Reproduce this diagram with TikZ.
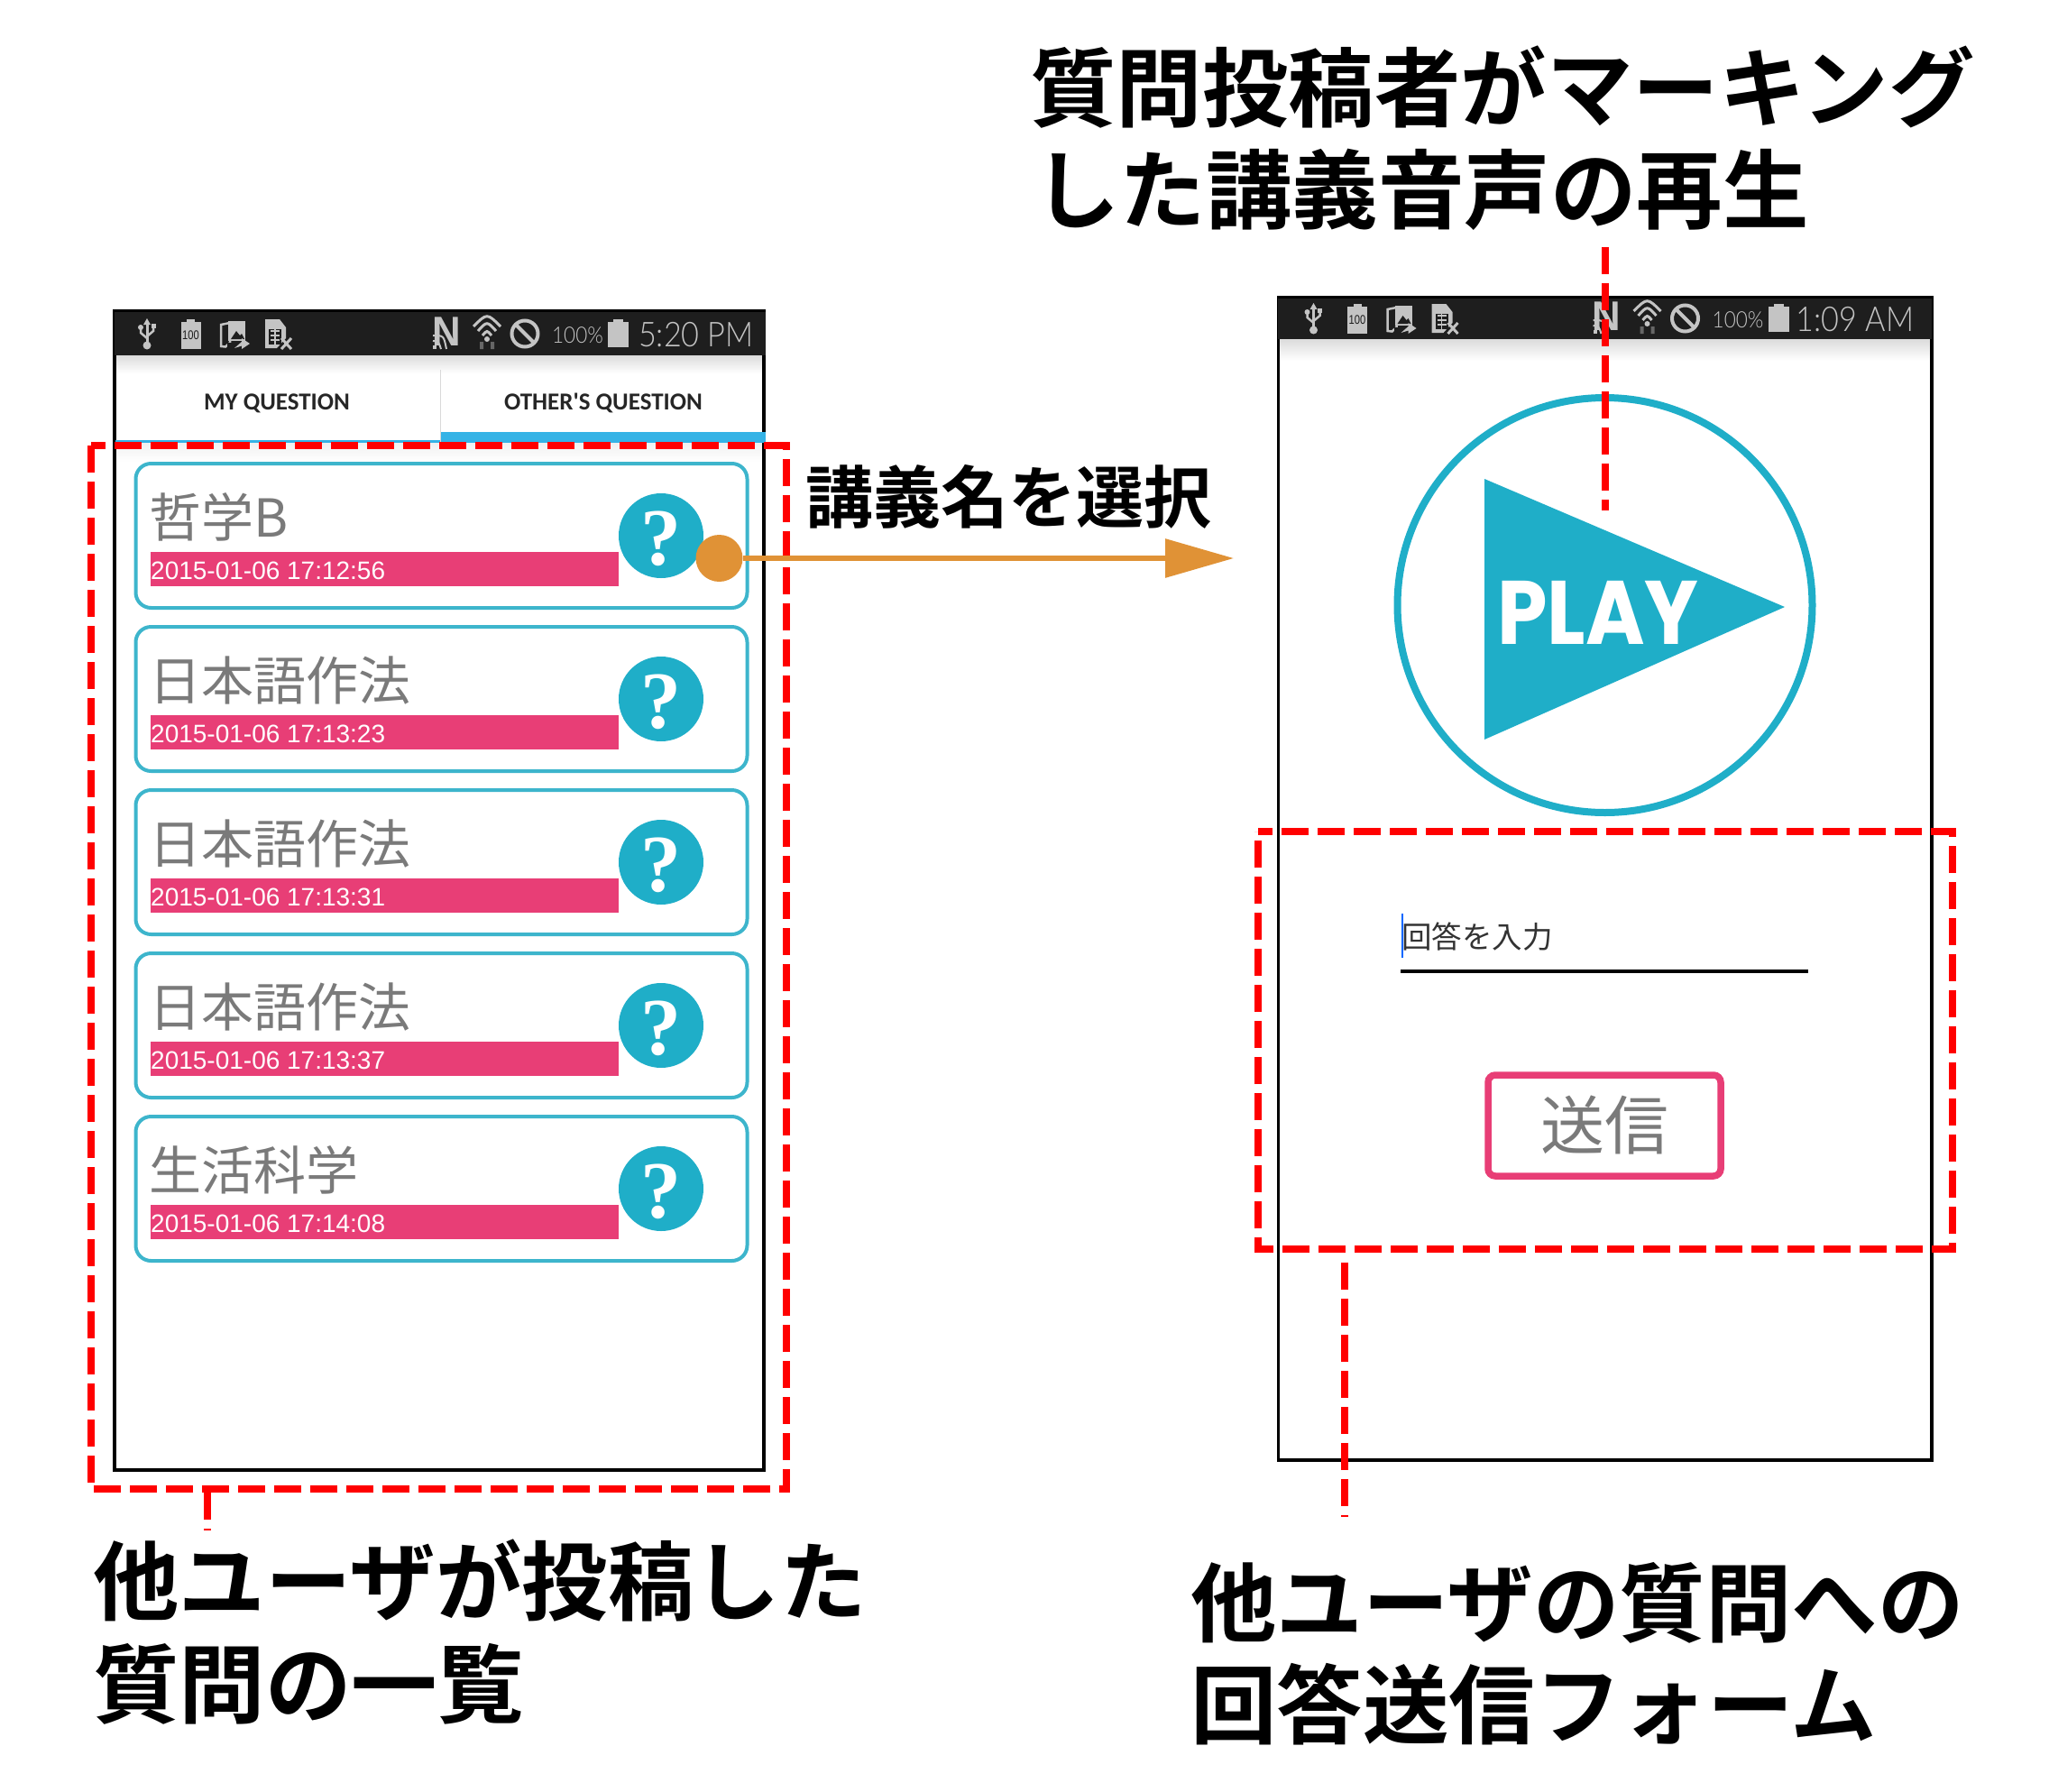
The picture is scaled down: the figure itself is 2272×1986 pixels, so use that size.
\documentclass[tikz,border=0pt]{standalone}
\usepackage{fontspec}
\usetikzlibrary{arrows.meta}
\setmainfont{Liberation Sans}
\newfontfamily\cjk{Noto Sans CJK JP}
\newfontfamily\cjkb{Noto Sans CJK JP Bold}
\newfontfamily\serq{Liberation Serif}
\newfontfamily\popf{Poppins}
\newfontfamily\tabf{Carlito}
\newfontfamily\thinf{Lato Light}
\definecolor{teal1}{HTML}{1FAEC8}
\definecolor{cardc}{HTML}{3DB5CC}
\definecolor{pink1}{HTML}{E83E76}
\definecolor{orange1}{HTML}{E09236}
\definecolor{tabblue}{HTML}{35B3E6}
\definecolor{icon}{HTML}{C4C4C4}
\definecolor{barc}{HTML}{1E1E1E}
\definecolor{graytxt}{HTML}{7A7A7A}
\definecolor{red1}{HTML}{FF0000}
\tikzset{
  lab/.style={anchor=base west,inner sep=0pt,font=\cjkb\fontsize{95.5}{95.5}\selectfont,text=black},
  redbox/.style={draw=red1,line width=7.5pt,dash pattern=on 30pt off 10pt,dash phase=14pt},
  redline/.style={draw=red1,line width=7.5pt,dash pattern=on 30pt off 10pt},
  phone/.style={draw=black,line width=3.5pt},
  card/.style={draw=cardc,line width=4pt,rounded corners=17pt,fill=white},
  iconline/.style={draw=icon,line width=3pt},
  iconfill/.style={fill=icon,draw=none},
  qmark/.style={anchor=base,inner sep=0pt,text=white,font=\serq\bfseries\fontsize{90}{90}\selectfont},
  cardtitle/.style={anchor=base west,inner sep=0pt,text=graytxt,font=\cjk\fontsize{58}{58}\selectfont},
  carddate/.style={anchor=base west,inner sep=0pt,text=white,font=\fontsize{28}{28}\selectfont},
  bartext/.style={anchor=base east,inner sep=0pt,text=icon,xscale=0.9,font=\thinf\fontsize{38}{38}\selectfont},
  tablab/.style={anchor=base,inner sep=0pt,text=black!85,font=\tabf\bfseries\fontsize{27}{27}\selectfont},
}
\newcommand{\lefticons}{%
  % usb
  \draw[iconline] (163,358) -- (163,382);
  \fill[icon] (163,353) -- (167,360) -- (159,360) -- cycle;
  \fill[icon] (163,383) circle[radius=4.5];
  \draw[iconline,line width=2.5pt] (156,364) -- (156,369) -- (163,375);
  \draw[iconline,line width=2.5pt] (170,362) -- (170,367) -- (163,373);
  \fill[icon] (156,363) circle[radius=3];
  \fill[icon] (167.5,359) rectangle (172.5,364);
  % battery 100
  \fill[icon] (200.5,357) rectangle (222.5,387);
  \fill[icon] (207,354) rectangle (216,358);
  \node[inner sep=0pt,text=barc,xscale=0.8,font=\fontsize{14}{14}\selectfont] at (211.5,372) {100};
  % photo share
  \draw[iconline,line width=2.5pt] (245,360) -- (255,358) -- (255,380) -- (250,384.5) -- (245,384) -- cycle;
  \fill[icon] (253,356) rectangle (272,378);
  \fill[barc] (256,376) -- (262,367) -- (266,372) -- (268,370) -- (271,376) -- cycle;
  \fill[barc] (252,380) rectangle (262,388);
  \fill[icon] (260,386) -- (268,379) -- (268,375) -- (277,381) -- (268,387) -- (268,383.5) -- cycle;
  % sim x
  \fill[icon] (294,354) -- (310,354) -- (317,363) -- (317,375) -- (307,386) -- (294,386) -- cycle;
  \fill[barc] (298,365) rectangle (312,382);
  \draw[icon,line width=1.5pt] (300,367) -- (310,367) (300,372) -- (310,372) (300,377) -- (310,377) (305,365) -- (305,382);
  \draw[iconline] (312,375) -- (323,387) (323,375) -- (312,387);
}
\newcommand{\righticons}[1]{%
  % N with cast arcs
  \node[anchor=base,inner sep=0pt,text=icon,xscale=0.95,font=\bfseries\fontsize{46}{46}\selectfont] at (495,383) {N};
  \fill[icon] (480,387) rectangle (484,383);
  \draw[icon,line width=2pt] (480,378) .. controls (486,378) .. (489,387) (480,372) .. controls (492,372) .. (495,387);
  % wifi
  \draw[iconline] (525,362) .. controls (540,347) .. (555,362);
  \draw[iconline] (530,367) .. controls (540,356) .. (550,367);
  \draw[iconline] (535,372) .. controls (540,366) .. (545,372);
  \fill[icon] (540,376) circle[radius=3];
  \fill[gray!80!black] (532,379) rectangle (536,387) (544,379) rectangle (548,387);
  % no sign
  \draw[icon,line width=4pt] (582,370) circle[radius=14.5];
  \draw[icon,line width=4pt] (572,360) -- (592,380);
  % percent
  \node[anchor=base west,inner sep=0pt,text=icon,xscale=0.9,font=\thinf\fontsize{25}{25}\selectfont] at (612,380) {100\%};
  % battery
  \fill[icon] (674,357) rectangle (697,385);
  \fill[icon] (680,354) rectangle (691,358);
  \node[bartext] at (836,384) {#1};
}
\begin{document}
\begin{tikzpicture}[x=1pt,y=-1pt]
\useasboundingbox (0,0) rectangle (2272,1986);
\fill[white] (0,0) rectangle (2272,1986);

%% ---------- phone 1 ----------
\fill[white] (126.5,343) rectangle (847,1630);
\shade[top color=black!14,bottom color=white,draw=none] (127,394) rectangle (847,414);
\shade[top color=black!6,bottom color=white,draw=none] (127,490) rectangle (847,512);
\draw[phone] (127,345) rectangle (847,1630);
\fill[barc] (126.5,343) rectangle (849,394);
\draw[black,line width=3pt] (126.5,344) -- (849,344);
\lefticons
\righticons{5:20 PM}
\node[tablab] (tabmy) at (307,454) {MY QUESTION};
\node[tablab] (tabother) at (669,454) {OTHER'S QUESTION};
\draw[black!15,line width=1pt] (488,410) -- (488,490);
\fill[tabblue] (128,488) rectangle (488,491);
\fill[tabblue] (489,479) rectangle (849,491);

\foreach \n/\t/\d [count=\i from 0] in {
  a/哲学B/2015-01-06 17:12:56,
  b/日本語作法/2015-01-06 17:13:23,
  c/日本語作法/2015-01-06 17:13:31,
  d/日本語作法/2015-01-06 17:13:37,
  e/生活科学/2015-01-06 17:14:08}{
  \pgfmathsetmacro{\yy}{513+181*\i}
  \begin{scope}[shift={(0,\yy)}]
    \draw[card] (150.5,1) rectangle (828.5,161);
    \fill[pink1] (167,99) rectangle (686,137);
    \node[cardtitle] (title\n) at (165.5,82) {\t};
    \node[carddate] (date\n) at (167,129) {\d};
    \fill[teal1] (733,81) circle[radius=47];
    \node[qmark] (q\n) at (733,113) {?};
  \end{scope}
}

%% ---------- phone 2 ----------
\shade[top color=black!14,bottom color=white,draw=none] (1418,376) rectangle (2141,400);
\draw[phone] (1417.5,330) rectangle (2142,1619);
\fill[barc] (1417,328) rectangle (2142,376);
\draw[black,line width=3pt] (1417,329) -- (2142,329);
\begin{scope}[shift={(1293.5,-17)}]\lefticons\end{scope}
\begin{scope}[shift={(1286.5,-17)}]\righticons{1:09 AM}\end{scope}

\node[circle,draw=teal1,line width=8pt,minimum size=460pt,inner sep=0pt] (playc) at (1779.5,671) {};
\fill[teal1] (1646,531) -- (1979,673) -- (1646,820) -- cycle;
\node[anchor=base,inner sep=0pt,text=white,xscale=0.89,font=\popf\bfseries\fontsize{100}{100}\selectfont] (playt) at (1772,714) {PLAY};

\node[anchor=base west,inner sep=0pt,text=black!80,font=\cjk\fontsize{33.5}{33.5}\selectfont] (inp) at (1554,1051) {回答を入力};
\fill[blue!60!cyan] (1553.5,1013) rectangle (1555.5,1062);
\draw[black,line width=4pt] (1553,1077) -- (2005,1077);
\node[draw=pink1,line width=7.5pt,rounded corners=8pt,minimum width=258pt,minimum height=112pt,inner sep=0pt,anchor=center,text=graytxt,font=\cjk\fontsize{71}{71}\selectfont] (send) at (1779,1248) {送信};

%% ---------- red frames and leaders ----------
\path[redbox] (101,494) -- (872,494) -- (872,1651) -- (101,1651) -- cycle;
\path[redbox] (1395,922) -- (2165,922) -- (2165,1385) -- (1395,1385) -- cycle;
\coordinate (lead1a) at (230,1655);
\coordinate (lead1b) at (230,1697);
\coordinate (lead2a) at (1491,1400);
\coordinate (lead2b) at (1491,1682);
\coordinate (lead3a) at (1780,274);
\coordinate (lead3b) at (1780,566);
\path[redline] (lead1a) -- (lead1b);
\path[redline] (lead2a) -- (lead2b);
\path[redline] (lead3a) -- (lead3b);

%% ---------- orange arrow ----------
\node[circle,fill=orange1,minimum size=52pt,inner sep=0pt] (src) at (797.5,619) {};
\coordinate (tgt) at (1368,619);
\draw[orange1,line width=6pt,-{Triangle[length=76pt,width=42pt]}] (src) -- (tgt);

%% ---------- labels ----------
\node[lab,font=\cjkb\fontsize{75}{75}\selectfont] (l1) at (893,579) {講義名を選択};
\node[lab] (l2) at (1142,133) {質問投稿者がマーキング};
\node[lab] (l3) at (1146,246) {した講義音声の再生};
\node[lab] (l4) at (103,1789) {他ユーザが投稿した};
\node[lab] (l5) at (103,1903) {質問の一覧};
\node[lab] (l6) at (1320,1813) {他ユーザの質問への};
\node[lab] (l7) at (1320,1926) {回答送信フォーム};
\end{tikzpicture}
\end{document}
